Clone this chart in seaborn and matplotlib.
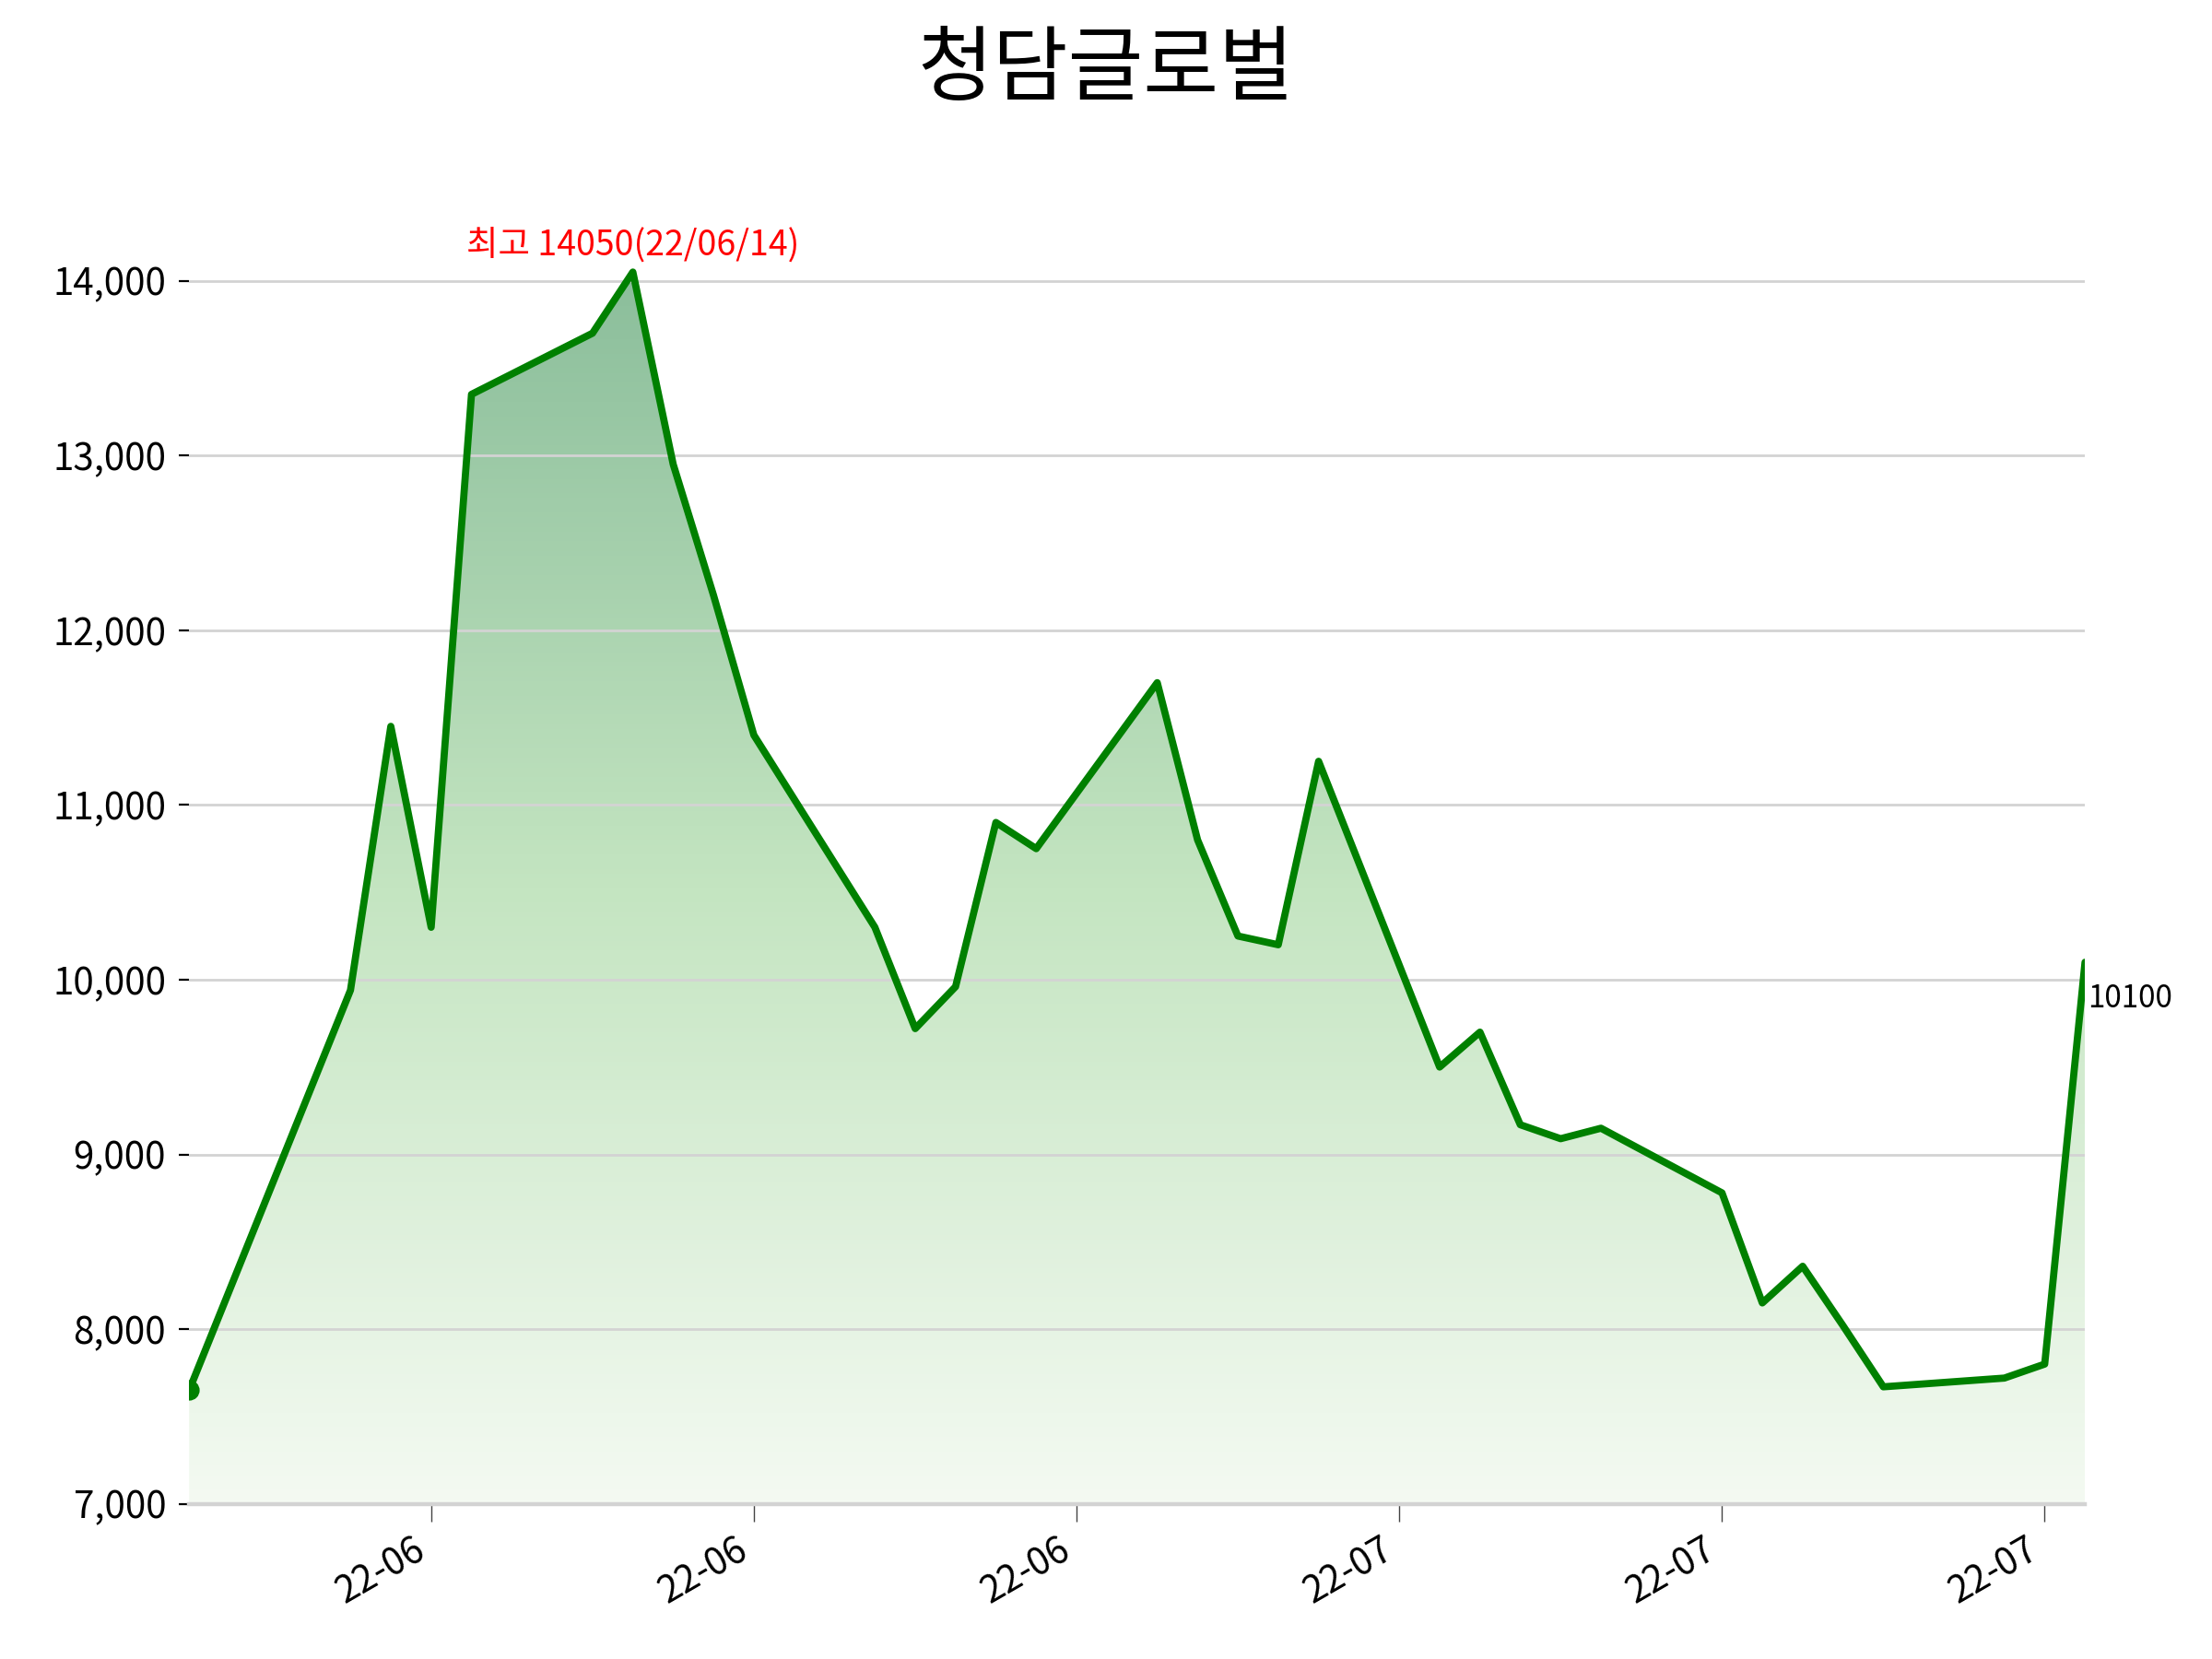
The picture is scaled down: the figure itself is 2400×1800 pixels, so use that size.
import numpy as np
import pandas as pd
import seaborn as sns
import matplotlib
matplotlib.use("Agg")
import matplotlib.pyplot as plt
import matplotlib.dates as mdates
from matplotlib.colors import LinearSegmentedColormap
from matplotlib.patches import Polygon
from matplotlib.ticker import FuncFormatter, FixedLocator

# Data
title = "청담글로벌"
dates = [
    "2022-06-03", "2022-06-07", "2022-06-08", "2022-06-09", "2022-06-10",
    "2022-06-13", "2022-06-14", "2022-06-15", "2022-06-16", "2022-06-17",
    "2022-06-20", "2022-06-21", "2022-06-22", "2022-06-23", "2022-06-24",
    "2022-06-27", "2022-06-28", "2022-06-29", "2022-06-30", "2022-07-01",
    "2022-07-04", "2022-07-05", "2022-07-06", "2022-07-07", "2022-07-08",
    "2022-07-11", "2022-07-12", "2022-07-13", "2022-07-14", "2022-07-15",
    "2022-07-18", "2022-07-19", "2022-07-20",
]
closes = [
    7650, 9940, 11450, 10300, 13350,
    13700, 14050, 12950, 12200, 11400,
    10300, 9720, 9960, 10900, 10750,
    11700, 10800, 10250, 10200, 11250,
    9500, 9700, 9170, 9090, 9150,
    8780, 8150, 8360, 8020, 7670,
    7720, 7800, 10100,
]
tick_dates = ["2022-06-09", "2022-06-17", "2022-06-25", "2022-07-03", "2022-07-11", "2022-07-19"]
y_floor = 7000

df = pd.DataFrame({"date": pd.to_datetime(dates), "close": closes})

sns.set_theme(style="white")
plt.rcParams["font.family"] = ["Noto Sans CJK KR", "DejaVu Sans"]
plt.rcParams["text.color"] = "black"
plt.rcParams["xtick.color"] = "black"
plt.rcParams["ytick.color"] = "black"

fig, ax = plt.subplots(figsize=(12, 9), dpi=200)
fig.subplots_adjust(left=0.0855, right=0.9426, bottom=0.0935, top=0.91)

# Line
sns.lineplot(df, x="date", y="close", color="green", linewidth=2.8, ax=ax, zorder=3)

# Gradient fill under the line
xnum = mdates.date2num(df["date"])
cmap = LinearSegmentedColormap.from_list("fill", ["#f4faf2", "#c4e5c1", "#8bbe9b"])
grad = np.linspace(0, 1, 256).reshape(-1, 1)
im = ax.imshow(
    grad, cmap=cmap, aspect="auto", origin="lower",
    extent=[xnum[0], xnum[-1], y_floor, df["close"].max()], zorder=0.2,
)
poly = Polygon(
    np.column_stack([np.r_[xnum[0], xnum, xnum[-1]], np.r_[y_floor, df["close"], y_floor]]),
    closed=True, facecolor="none", edgecolor="none",
)
ax.add_patch(poly)
im.set_clip_path(poly)

# Start marker
ax.plot(xnum[0], df["close"].iloc[0], "o", color="green", markersize=7, zorder=4)

# Max annotation
imax = df["close"].idxmax()
ax.annotate(
    f"최고 {df['close'][imax]}({df['date'][imax]:%y/%m/%d})",
    (xnum[imax], df["close"][imax]), xytext=(0, 3), textcoords="offset points",
    ha="center", va="bottom", color="red", fontsize=13.5,
)

# Last value
ax.annotate(
    f"{df['close'].iloc[-1]}", (xnum[-1], df["close"].iloc[-1]),
    xytext=(1, -8), textcoords="offset points", ha="left", va="top", fontsize=12,
)

# Format
ax.set_xlim(xnum[0], xnum[-1])
ax.set_ylim(y_floor, df["close"].max() * 1.05)
ax.xaxis.set_major_locator(FixedLocator(mdates.date2num(pd.to_datetime(tick_dates))))
ax.xaxis.set_major_formatter(mdates.DateFormatter("%y-%m"))
ax.yaxis.set_major_formatter(FuncFormatter(lambda v, _: f"{v:,.0f}"))
ax.yaxis.grid(True, color="#d3d3d3", linewidth=1)
ax.xaxis.grid(False)
for side in ["left", "top", "right"]:
    ax.spines[side].set_visible(False)
ax.spines["bottom"].set_color("#d3d3d3")
ax.spines["bottom"].set_linewidth(1.6)
ax.tick_params(axis="y", left=True, length=4, width=0.8, color="black", labelsize=14.5, pad=5)
ax.tick_params(axis="x", bottom=True, length=7, width=0.5, color="#444444", labelsize=14.5)
plt.setp(ax.get_xticklabels(), rotation=30, ha="right")
ax.set_xlabel(None)
ax.set_ylabel(None)
fig.suptitle(title, fontsize=32, y=0.983, color="black")

plt.savefig("out.png", dpi=200)
